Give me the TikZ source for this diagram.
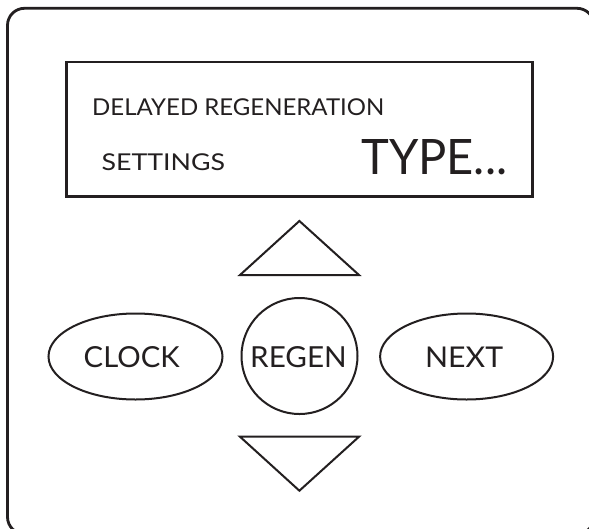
\documentclass[tikz,border=0pt]{standalone}
\usepackage{fontspec}
\usepackage{graphicx}
\setmainfont{Lato}
\usetikzlibrary{shapes.geometric}
\definecolor{ink}{RGB}{35,31,32}
\newcommand{\fitto}[3]{\resizebox{#1pt}{#2pt}{#3}}
\tikzset{
  panel/.style={draw=ink, line width=2.8pt, rounded corners=17pt},
  lcd/.style={draw=ink, line width=2.7pt},
  key/.style={draw=ink, line width=2pt, line join=miter},
  oval/.style={ellipse, draw=ink, line width=2pt, inner sep=0pt},
  txt/.style={anchor=base west, inner sep=0pt, text=ink, font=\fontsize{24}{26}\selectfont},
}
\begin{document}
\begin{tikzpicture}[x=1pt, y=-1pt]
\useasboundingbox (0,0) rectangle (589,528);
\fill[white] (0,0) rectangle (589,528);
% outer panel (cropped at right and bottom)
\draw[panel] (7.5,8.3) rectangle (594,534);
% display
\draw[lcd] (66.3,62) rectangle (532.3,196.3);
\node[txt] (l1) at (92,115) {\fitto{292}{16.8}{DELAYED REGENERATION}};
\node[txt] (l2) at (101.4,170) {\fitto{123.5}{16.8}{SETTINGS}};
\node[txt] (l3) at (361,174.7) {\fitto{146}{35}{TYPE...}};
% arrows
\coordinate (up1) at (240,275);
\coordinate (up2) at (359,275);
\coordinate (up3) at (299.4,221);
\draw[key] (up1) -- (up2) -- (up3) -- cycle;
\coordinate (dn1) at (240,436.7);
\coordinate (dn2) at (359,436.7);
\coordinate (dn3) at (299.4,490.7);
\draw[key] (dn1) -- (dn2) -- (dn3) -- cycle;
% buttons
\node[oval, minimum width=174pt, minimum height=86pt] (clock) at (135.5,356.5) {};
\node[oval, minimum width=116pt, minimum height=116pt] (regen) at (299.5,356) {};
\node[oval, minimum width=173pt, minimum height=86pt] (next) at (466.6,356.5) {};
\node[txt] (clocklbl) at (83.5,367) {\fitto{96}{21}{CLOCK}};
\node[txt] (regenlbl) at (250,367) {\fitto{96.5}{21}{REGEN}};
\node[txt] (nextlbl) at (424.9,367) {\fitto{78}{20.5}{NEXT}};
\end{tikzpicture}
\end{document}
